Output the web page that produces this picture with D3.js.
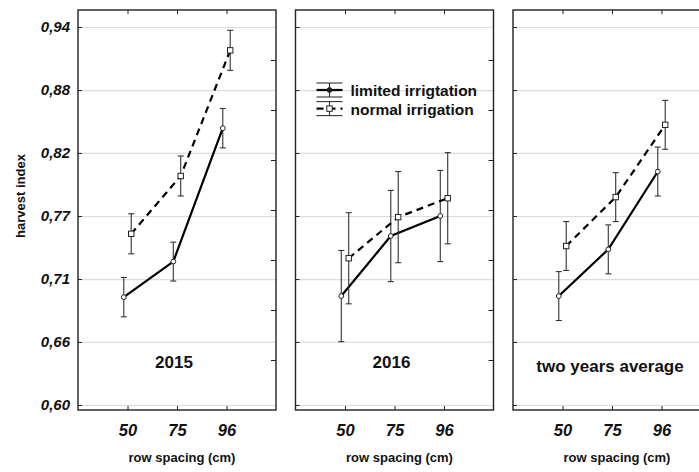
<!DOCTYPE html>
<html>
<head>
<meta charset="utf-8">
<script src="https://cdn.jsdelivr.net/npm/d3@7"></script>
<style>
  body { margin: 0; background: #fff; }
  svg { display: block; font-family: "Liberation Sans", Arial, sans-serif; }
</style>
</head>
<body>
<script>
// data
const panels = ["2015", "2016", "two years average"];
const spacing = ["50", "75", "96"];
const limitedMean = [[0.697, 0.729, 0.849], [0.698, 0.752, 0.770], [0.698, 0.740, 0.810]];
const limitedErr = [[0.0177, 0.0175, 0.0177], [0.041, 0.041, 0.041], [0.022, 0.022, 0.022]];
const normalMean = [[0.754, 0.806, 0.919], [0.732, 0.769, 0.786], [0.743, 0.787, 0.852]];
const normalErr = [[0.018, 0.018, 0.018], [0.041, 0.041, 0.041], [0.022, 0.022, 0.022]];
const yTicks = [0.60, 0.6567, 0.7133, 0.77, 0.8267, 0.8833, 0.94];
const yLabels = ["0,60", "0,66", "0,71", "0,77", "0,82", "0,88", "0,94"];
const seriesNames = ["limited irrigtation", "normal irrigation"];

let width = 699,
    height = 472,
    yTop = 10, yBottom = 410,
    pw = 198, step = 217.5, left0 = 78;

const svg = d3.select("body").append("svg")
    .attr("width", width)
    .attr("height", height);

let y = d3.scaleLinear()
    .domain([0.5955, 0.9553])
    .range([yBottom, yTop]);

let x = d3.scaleLinear()
    .domain([0, 4])
    .range([0, pw]);

// inner minor ticks on the right edge
let r = d3.scaleLinear().domain([0, 8]).range([yBottom, yTop]);

const offset = [-0.075, 0.075];

panels.forEach((name, p) => {
  const g = svg.append("g")
      .attr("transform", `translate(${left0 + p * step},0)`);

  // grid
  g.append("g")
      .call(d3.axisLeft(y).tickValues(yTicks).tickSize(-pw).tickFormat(""))
      .call(g => g.select(".domain").remove())
      .call(g => g.selectAll("line").attr("stroke", "#dcdcdc").attr("stroke-width", 1.2));

  // frame ticks
  const ticks = g.append("g").attr("class", "frameticks");
  ticks.append("g")
      .call(d3.axisRight(y).tickValues(yTicks).tickSize(4).tickFormat(""));
  ticks.append("g")
      .attr("transform", `translate(${pw},0)`)
      .call(d3.axisLeft(r).tickValues([1, 2, 3, 4, 5, 6, 7]).tickSize(5).tickFormat(""));
  ticks.append("g")
      .attr("transform", `translate(0,${yTop})`)
      .call(d3.axisBottom(x).tickValues([1, 2, 3]).tickSize(4).tickFormat(""));
  ticks.append("g")
      .attr("transform", `translate(0,${yBottom})`)
      .call(d3.axisTop(x).tickValues([1, 2, 3]).tickSize(4).tickFormat(""));
  ticks.selectAll(".domain").remove();
  ticks.selectAll("line").attr("stroke", "#222");

  // x labels
  g.append("g")
      .attr("transform", `translate(0,${yBottom})`)
      .call(d3.axisBottom(x).tickValues([1, 2, 3]).tickSize(0).tickPadding(14)
          .tickFormat((d, i) => spacing[i]))
      .call(g => g.select(".domain").remove())
      .call(g => g.selectAll("text")
          .attr("font-size", 16.5).attr("font-weight", "bold").attr("font-style", "italic")
          .attr("font-family", "Liberation Sans, Arial, sans-serif").attr("fill", "#111"));

  g.append("rect")
      .attr("x", 0).attr("y", yTop)
      .attr("width", pw).attr("height", yBottom - yTop)
      .attr("fill", "none").attr("stroke", "#222").attr("stroke-width", 1.4);

  g.append("text")
      .attr("x", pw / 2 + 5).attr("y", 462)
      .attr("text-anchor", "middle")
      .attr("font-size", 13).attr("font-weight", "bold").attr("fill", "#111")
      .text("row spacing (cm)");

  g.append("text")
      .attr("x", p === 2 ? 97 : 96).attr("y", p === 2 ? 372 : 368)
      .attr("text-anchor", "middle")
      .attr("font-size", 17).attr("font-weight", "bold").attr("fill", "#111")
      .text(name);

  // series
  const series = [
    {mean: limitedMean[p], err: limitedErr[p], dash: null, shape: "circle"},
    {mean: normalMean[p], err: normalErr[p], dash: "7,5", shape: "square"}
  ];

  series.forEach((s, k) => {
    const pts = s.mean.map((v, i) => ({x: i + 1 + offset[k], v: v, e: s.err[i]}));

    const eb = g.append("g").attr("stroke", "#333").attr("stroke-width", 1.1);
    eb.selectAll(".v").data(pts).join("line")
        .attr("x1", d => x(d.x)).attr("x2", d => x(d.x))
        .attr("y1", d => y(d.v - d.e)).attr("y2", d => y(d.v + d.e));
    eb.selectAll(".t").data(pts.flatMap(d => [d.v - d.e, d.v + d.e].map(c => ({x: d.x, c}))))
        .join("line")
        .attr("x1", d => x(d.x) - 3).attr("x2", d => x(d.x) + 3)
        .attr("y1", d => y(d.c)).attr("y2", d => y(d.c));

    g.append("path")
        .datum(pts)
        .attr("fill", "none")
        .attr("stroke", "#000")
        .attr("stroke-width", 2.2)
        .attr("stroke-dasharray", s.dash)
        .attr("d", d3.line().x(d => x(d.x)).y(d => y(d.v)));

    if (s.shape === "circle") {
      g.selectAll(null).data(pts).join("circle")
          .attr("cx", d => x(d.x)).attr("cy", d => y(d.v)).attr("r", 2.4)
          .attr("fill", "#fff").attr("stroke", "#222").attr("stroke-width", 1);
    } else {
      g.selectAll(null).data(pts).join("rect")
          .attr("x", d => x(d.x) - 2.7).attr("y", d => y(d.v) - 2.7)
          .attr("width", 5.4).attr("height", 5.4)
          .attr("fill", "#fff").attr("stroke", "#222").attr("stroke-width", 1);
    }
  });

  // legend in the middle panel
  if (p === 1) {
    const lg = g.append("g").attr("transform", "translate(21,0)");
    seriesNames.forEach((nm, k) => {
      const ly = 90 + k * 18.6;
      const e = lg.append("g").attr("stroke", "#333").attr("stroke-width", 1.1);
      e.append("line").attr("x1", 0).attr("x2", 26).attr("y1", ly - 7).attr("y2", ly - 7);
      e.append("line").attr("x1", 0).attr("x2", 26).attr("y1", ly + 7).attr("y2", ly + 7);
      e.append("line").attr("x1", 13).attr("x2", 13).attr("y1", ly - 7).attr("y2", ly + 7);
      lg.append("line")
          .attr("x1", 0).attr("x2", 26).attr("y1", ly).attr("y2", ly)
          .attr("stroke", "#000").attr("stroke-width", 2.2)
          .attr("stroke-dasharray", k === 1 ? "7,5" : null);
      if (k === 0) {
        lg.append("circle").attr("cx", 13).attr("cy", ly).attr("r", 2.4)
            .attr("fill", "#222").attr("stroke", "#222");
      } else {
        lg.append("rect").attr("x", 10.3).attr("y", ly - 2.7).attr("width", 5.4).attr("height", 5.4)
            .attr("fill", "#fff").attr("stroke", "#222");
      }
      lg.append("text")
          .attr("x", 34).attr("y", ly + 6)
          .attr("font-size", 15.5).attr("font-weight", "bold").attr("fill", "#111")
          .text(nm);
    });
  }
});

// y labels on the first panel
svg.append("g")
    .attr("transform", `translate(${left0},0)`)
    .call(d3.axisLeft(y).tickValues(yTicks).tickSize(0).tickPadding(8)
        .tickFormat((d, i) => yLabels[i]))
    .call(g => g.select(".domain").remove())
    .call(g => g.selectAll("text")
        .attr("font-size", 15).attr("font-weight", "bold").attr("font-style", "italic")
        .attr("font-family", "Liberation Sans, Arial, sans-serif").attr("fill", "#111"));

svg.append("text")
    .attr("transform", "translate(25,196) rotate(-90)")
    .attr("text-anchor", "middle")
    .attr("font-size", 13).attr("font-weight", "bold").attr("fill", "#111")
    .text("harvest index");
</script>
</body>
</html>
